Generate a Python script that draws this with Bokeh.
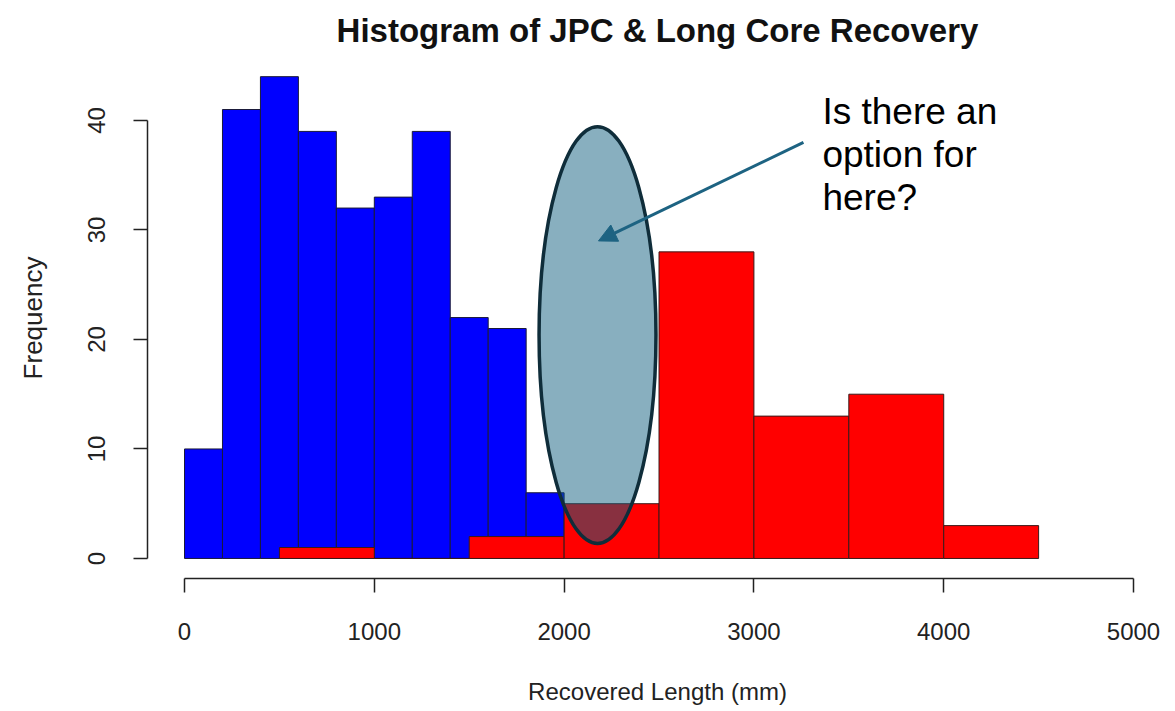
from bokeh.plotting import figure
from bokeh.models import Range1d, FixedTicker, Arrow, NormalHead, ColumnDataSource
from bokeh.core.properties import value
from bokeh.embed import file_html
from bokeh.resources import INLINE

# --- data -------------------------------------------------------------
blue_left = [0, 200, 400, 600, 800, 1000, 1200, 1400, 1600, 1800]
blue_right = [200, 400, 600, 800, 1000, 1200, 1400, 1600, 1800, 2000]
blue_counts = [10, 41, 44, 39, 32, 33, 39, 22, 21, 6]

red_left = [500, 1000, 1500, 2000, 2500, 3000, 3500, 4000]
red_right = [1000, 1500, 2000, 2500, 3000, 3500, 4000, 4500]
red_counts = [1, 0, 2, 5, 28, 13, 15, 3]

x_ticks = [0, 1000, 2000, 3000, 4000, 5000]
y_ticks = [0, 10, 20, 30, 40]

title = "Histogram of JPC & Long Core Recovery"
x_label = "Recovered Length (mm)"
y_label = "Frequency"
note_lines = ["Is there an", "option for", "here?"]

# highlight ellipse (data units) and arrow
ell_x, ell_y, ell_w, ell_h = 2176, 20.4, 616, 38.1
arrow_start = (3261, 38.0)
arrow_end = (2181, 29.0)
note_x, note_y0, note_step = 3361, 40.8, 3.93

FONT = "Liberation Sans"

p = figure(width=1167, height=711, output_backend="svg", toolbar_location=None,
           x_range=Range1d(-195, 5179), y_range=Range1d(-1.83, 45.75),
           min_border_left=147, min_border_right=0, min_border_top=57, min_border_bottom=133)
p.background_fill_color = "white"
p.border_fill_color = "white"
p.outline_line_color = None
p.grid.visible = False

p.title.text = title
p.title.align = "center"
p.title.text_font = FONT
p.title.text_font_size = "33px"
p.title.text_font_style = "bold"
p.title.text_color = "#111111"
p.title.standoff = 17

p.quad(left=blue_left, right=blue_right, bottom=0, top=blue_counts,
       fill_color="#0000FF", line_color="#1a1a3a", line_width=1)
p.quad(left=red_left, right=red_right, bottom=0, top=red_counts,
       fill_color="#FF0000", line_color="#3a1a1a", line_width=1)

p.ellipse(x=[ell_x], y=[ell_y], width=[ell_w], height=[ell_h],
          fill_color="#125F80", fill_alpha=0.5, line_color="#0f2d3a", line_width=3.5)

p.add_layout(Arrow(end=NormalHead(size=18, fill_color="#1d6382", line_color="#1d6382"),
                   x_start=arrow_start[0], y_start=arrow_start[1],
                   x_end=arrow_end[0], y_end=arrow_end[1],
                   line_color="#1d6382", line_width=3))

note_src = ColumnDataSource(dict(x=[note_x] * len(note_lines),
                                 y=[note_y0 - i * note_step for i in range(len(note_lines))],
                                 text=note_lines))
p.text(x="x", y="y", text="text", source=note_src, text_font=value(FONT),
       text_font_size="37px", text_color="black", text_baseline="alphabetic", text_align="left")

for ax in (p.xaxis[0], p.yaxis[0]):
    ax.axis_line_color = "#222222"
    ax.axis_line_width = 1.5
    ax.major_tick_line_color = "#222222"
    ax.major_tick_line_width = 1.5
    ax.major_tick_out = 14
    ax.major_tick_in = 0
    ax.minor_tick_out = 0
    ax.minor_tick_in = 0
    ax.major_label_text_font = FONT
    ax.major_label_text_font_size = "24px"
    ax.major_label_text_color = "#222222"
    ax.axis_label_text_font = FONT
    ax.axis_label_text_font_style = "normal"
    ax.axis_label_text_color = "#222222"

p.xaxis.ticker = FixedTicker(ticks=x_ticks)
p.xaxis.bounds = (0, 5000)
p.xaxis.axis_label = x_label
p.xaxis.axis_label_text_font_size = "24px"
p.xaxis.major_label_standoff = 30
p.xaxis.axis_label_standoff = 35

p.yaxis.ticker = FixedTicker(ticks=y_ticks)
p.yaxis.bounds = (0, 40)
p.yaxis.axis_label = y_label
p.yaxis.axis_label_text_font_size = "26px"
p.yaxis.major_label_orientation = "vertical"
p.yaxis.major_label_standoff = 28
p.yaxis.axis_label_standoff = 38

open("out.html", "w").write(file_html(p, INLINE))
